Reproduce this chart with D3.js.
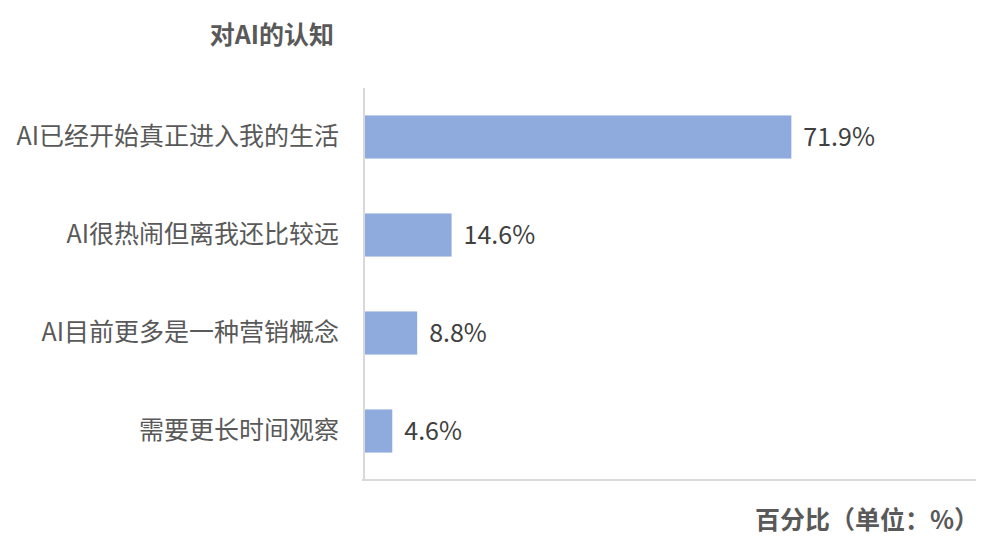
<!DOCTYPE html>
<html>
<head>
<meta charset="utf-8">
<script src="https://cdn.jsdelivr.net/npm/d3@7"></script>
<style>
  body { margin: 0; background: #fff; }
  text { font-family: "Noto Sans CJK SC", "Noto Sans", sans-serif; }
</style>
</head>
<body>
<div id="chart"></div>
<script>
// chart data
const categories = ['AI已经开始真正进入我的生活', 'AI很热闹但离我还比较远', 'AI目前更多是一种营销概念', '需要更长时间观察'];
const values = [71.9, 14.6, 8.8, 4.6];
const chartTitle = '对AI的认知';
const axisTitle = '百分比（单位：%）';

const width = 993, height = 556;

const svg = d3.select('#chart')
    .append('svg')
    .attr('width', width)
    .attr('height', height);

// scales
const x = d3.scaleLinear().domain([0, 100]).range([365, 958]);
const y = d3.scaleBand()
    .domain(categories)
    .range([88, 480])
    .paddingInner(0.56)
    .paddingOuter(0.28);

// bars
svg.selectAll('.bar')
    .data(values)
    .enter()
    .append('rect')
    .attr('class', 'bar')
    .attr('x', x(0))
    .attr('y', (d, i) => y(categories[i]))
    .attr('width', d => x(d) - x(0))
    .attr('height', y.bandwidth())
    .attr('fill', '#8faadc');

// value labels
svg.selectAll('.value-label')
    .data(values)
    .enter()
    .append('text')
    .attr('class', 'value-label')
    .attr('x', d => x(d) + 12)
    .attr('y', (d, i) => y(categories[i]) + y.bandwidth() / 2)
    .attr('dy', '0.35em')
    .attr('font-size', '25px')
    .attr('fill', '#404040')
    .text(d => d.toFixed(1) + '%');

// category axis (labels only, line drawn separately)
const yAxis = svg.append('g')
    .attr('transform', `translate(${x(0)},0)`)
    .call(d3.axisLeft(y).tickSize(0).tickPadding(26));
yAxis.select('.domain').remove();
yAxis.selectAll('text')
    .attr('font-size', '25px')
    .attr('fill', '#595959')
    .style('font-family', '"Noto Sans CJK SC", sans-serif');

// axis lines
svg.append('line')
    .attr('x1', 364).attr('x2', 364)
    .attr('y1', 88).attr('y2', 481)
    .attr('stroke', '#d9d9d9')
    .attr('stroke-width', 2);

svg.append('line')
    .attr('x1', 362).attr('x2', 976)
    .attr('y1', 480).attr('y2', 480)
    .attr('stroke', '#d9d9d9')
    .attr('stroke-width', 2);

// titles
svg.append('text')
    .attr('x', 334)
    .attr('y', 35)
    .attr('dy', '0.35em')
    .attr('text-anchor', 'end')
    .attr('font-size', '25px')
    .attr('font-weight', 'bold')
    .attr('fill', '#595959')
    .text(chartTitle);

svg.append('text')
    .attr('x', 979)
    .attr('y', 520)
    .attr('dy', '0.35em')
    .attr('text-anchor', 'end')
    .attr('font-size', '25px')
    .attr('font-weight', 'bold')
    .attr('fill', '#595959')
    .text(axisTitle);
</script>
</body>
</html>
